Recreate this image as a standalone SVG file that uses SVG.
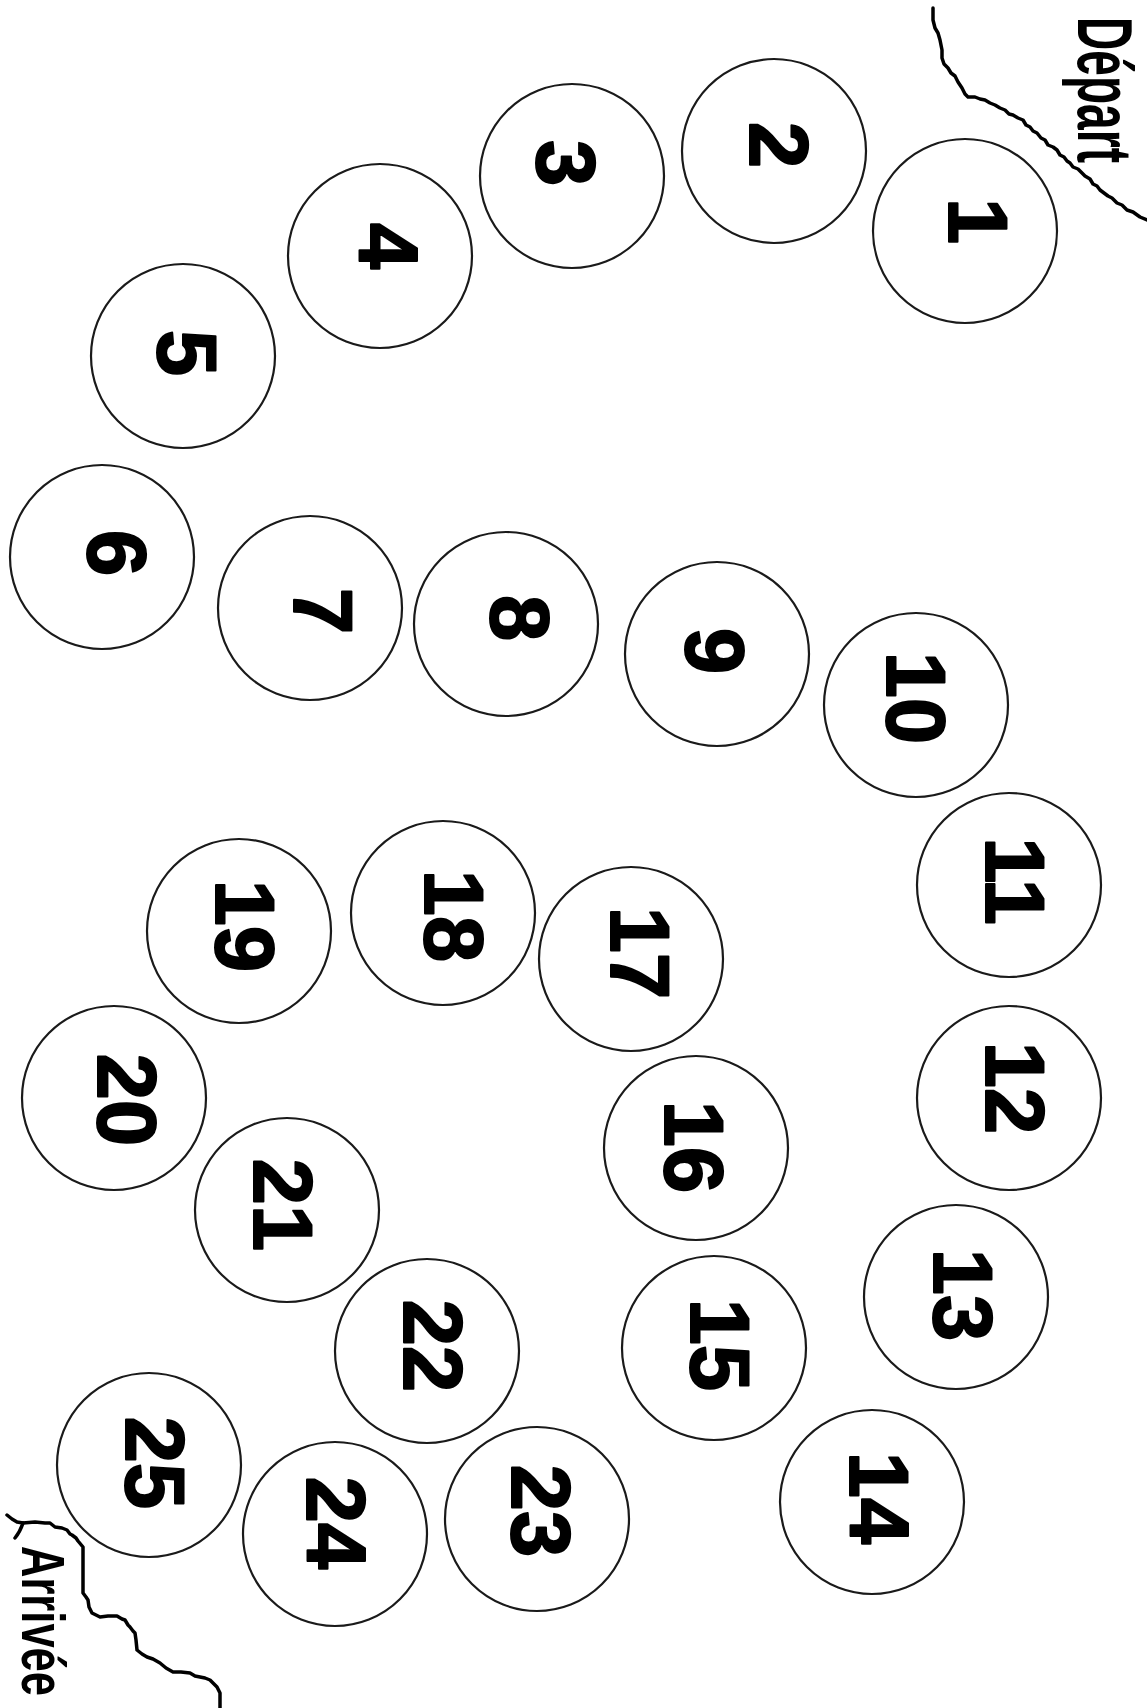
<svg xmlns="http://www.w3.org/2000/svg" width="1147" height="1708" viewBox="0 0 1147 1708">
<style>
.c{fill:#fff;stroke:#1a1a1a;stroke-width:2.2}
.n{font-family:"Liberation Sans",Arial,sans-serif;font-weight:bold;font-size:83px;text-anchor:middle;dominant-baseline:central;fill:#000;stroke:#000;stroke-width:2;stroke-linejoin:round}
.b{fill:none;stroke:#000;stroke-width:3.5;stroke-linejoin:round;stroke-linecap:round}
.lbl{font-family:"Liberation Sans",Arial,sans-serif;font-weight:bold;fill:#000}
</style>
<rect width="1147" height="1708" fill="#fff"/>
<g id="borders">
<path class="b" d="M933,8 L933,20 L935,28 L938,33 L940,40 L942,50 L942,58 L944,64 L948,68 L951,73 L955,76 L958,82 L962,88 L965,94 L968,97 L975,97 L980,99 L985,100 L990,103 L995,105 L1000,108 L1005,110 L1009,114 L1013,115 L1018,118 L1023,120 L1026,125 L1030,127 L1033,131 L1037,133 L1041,138 L1045,140 L1048,145 L1053,147 L1057,150 L1060,155 L1064,157 L1067,161 L1070,163 L1073,167 L1078,169 L1082,173 L1085,176 L1090,179 L1093,184 L1097,186 L1100,190 L1104,193 L1108,196 L1112,198 L1117,203 L1122,205 L1127,210 L1133,212 L1140,217 L1147,220"/>
<path class="b" d="M7,1515 L12,1519 L17,1522 L23,1523 L35,1522 L45,1523 L50,1523 L55,1527 L62,1528 L67,1530 L70,1534 L72,1535 L76,1538 L78,1541 L83,1547 L83,1560 L83,1575 L83,1593 L86,1597 L88,1600 L89,1607 L92,1613 L100,1617 L108,1616 L117,1616 L122,1619 L125,1620 L128,1625 L130,1627 L133,1631 L135,1633 L136,1640 L137,1650 L142,1654 L147,1657 L153,1659 L160,1663 L166,1668 L173,1672 L181,1672 L190,1673 L195,1676 L200,1677 L205,1678 L210,1680 L214,1684 L217,1687 L219,1691 L220,1693 L220,1708"/>
<path class="b" d="M23,1523 Q20,1532 15,1538"/>
</g>
<text class="lbl" font-size="77" textLength="146" lengthAdjust="spacingAndGlyphs" transform="translate(1078,17) rotate(90)">Départ</text>
<text class="lbl" font-size="62" textLength="150" lengthAdjust="spacingAndGlyphs" transform="translate(22,1546) rotate(90)">Arrivée</text>
<g id="connectors"/>
<g id="n1"><circle class="c" cx="965" cy="231" r="92"/><text class="n" transform="translate(977,221) rotate(90)">1</text></g>
<g id="n2"><circle class="c" cx="774" cy="151" r="92"/><text class="n" transform="translate(778,145) rotate(90)">2</text></g>
<g id="n3"><circle class="c" cx="572" cy="176" r="92"/><text class="n" transform="translate(565,163) rotate(90)">3</text></g>
<g id="n4"><circle class="c" cx="380" cy="256" r="92"/><text class="n" transform="translate(387,246) rotate(90)">4</text></g>
<g id="n5"><circle class="c" cx="183" cy="356" r="92"/><text class="n" transform="translate(186,353) rotate(90)">5</text></g>
<g id="n6"><circle class="c" cx="102" cy="557" r="92"/><text class="n" transform="translate(116,553) rotate(90)">6</text></g>
<g id="n7"><circle class="c" cx="310" cy="608" r="92"/><text class="n" transform="translate(322,611) rotate(90)">7</text></g>
<g id="n8"><circle class="c" cx="506" cy="624" r="92"/><text class="n" transform="translate(519,618) rotate(90)">8</text></g>
<g id="n9"><circle class="c" cx="717" cy="654" r="92"/><text class="n" transform="translate(714,651) rotate(90)">9</text></g>
<g id="n10"><circle class="c" cx="916" cy="705" r="92"/><text class="n" transform="translate(915,698) rotate(90)">10</text></g>
<g id="n11"><circle class="c" cx="1009" cy="885" r="92"/><text class="n" transform="translate(1014,881) rotate(90)">11</text></g>
<g id="n12"><circle class="c" cx="1009" cy="1098" r="92"/><text class="n" transform="translate(1014,1088) rotate(90)">12</text></g>
<g id="n13"><circle class="c" cx="956" cy="1297" r="92"/><text class="n" transform="translate(962,1295) rotate(90)">13</text></g>
<g id="n14"><circle class="c" cx="872" cy="1502" r="92"/><text class="n" transform="translate(878,1498) rotate(90)">14</text></g>
<g id="n15"><circle class="c" cx="714" cy="1348" r="92"/><text class="n" transform="translate(719,1345) rotate(90)">15</text></g>
<g id="n16"><circle class="c" cx="696" cy="1148" r="92"/><text class="n" transform="translate(693,1147) rotate(90)">16</text></g>
<g id="n17"><circle class="c" cx="631" cy="959" r="92"/><text class="n" transform="translate(639,953) rotate(90)">17</text></g>
<g id="n18"><circle class="c" cx="443" cy="913" r="92"/><text class="n" transform="translate(453,916) rotate(90)">18</text></g>
<g id="n19"><circle class="c" cx="239" cy="931" r="92"/><text class="n" transform="translate(244,926) rotate(90)">19</text></g>
<g id="n20"><circle class="c" cx="114" cy="1098" r="92"/><text class="n" transform="translate(126,1100) rotate(90)">20</text></g>
<g id="n21"><circle class="c" cx="287" cy="1210" r="92"/><text class="n" transform="translate(282,1205) rotate(90)">21</text></g>
<g id="n22"><circle class="c" cx="427" cy="1351" r="92"/><text class="n" transform="translate(432,1346) rotate(90)">22</text></g>
<g id="n23"><circle class="c" cx="537" cy="1519" r="92"/><text class="n" transform="translate(540,1511) rotate(90)">23</text></g>
<g id="n24"><circle class="c" cx="335" cy="1534" r="92"/><text class="n" transform="translate(335,1523) rotate(90)">24</text></g>
<g id="n25"><circle class="c" cx="149" cy="1465" r="92"/><text class="n" transform="translate(154,1463) rotate(90)">25</text></g>
</svg>
